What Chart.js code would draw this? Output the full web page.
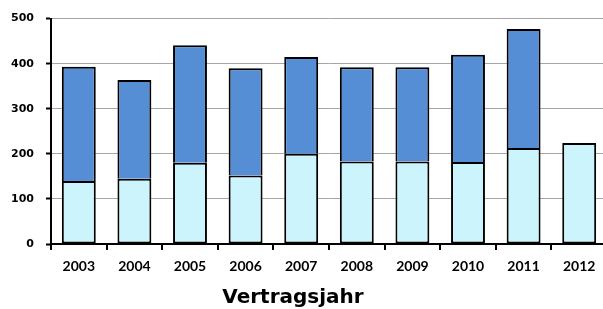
<!DOCTYPE html>
<html>
<head>
<meta charset="utf-8">
<script src="https://cdn.jsdelivr.net/npm/chart.js@4/dist/chart.umd.min.js"></script>
<style>
  html, body { margin: 0; padding: 0; background: #fff; overflow: hidden; width: 603px; height: 309px; }
  #wrap { width: 603px; height: 309px; overflow: hidden; position: relative; }
  canvas { display: block; }
</style>
</head>
<body>
<div id="wrap"><canvas id="c" width="608" height="309" style="width:608px;height:309px"></canvas></div>
<script>
const categories = ['2003','2004','2005','2006','2007','2008','2009','2010','2011','2012'];
const lowerValues = [140, 145, 180, 152, 200, 183, 183, 182, 213, 224];
const upperValues = [253, 219, 261, 238, 215, 209, 209, 238, 264, null];
const yTicks = [0, 100, 200, 300, 400, 500];
const axisTitle = 'Vertragsjahr';

const titlePlugin = {
  id: 'axisTitleText',
  afterDraw(chart) {
    const ctx = chart.ctx;
    ctx.save();
    ctx.font = 'bold 20px "DejaVu Sans"';
    ctx.fillStyle = '#000';
    ctx.textAlign = 'center';
    ctx.textBaseline = 'alphabetic';
    ctx.fillText(axisTitle, 293, 303);
    ctx.restore();
  }
};

new Chart(document.getElementById('c'), {
  type: 'bar',
  data: {
    labels: categories,
    datasets: [
      { data: lowerValues, backgroundColor: '#ccf4fc', borderColor: '#000', borderWidth: 2, borderSkipped: false },
      { data: upperValues, backgroundColor: '#558ed5', borderColor: '#000', borderWidth: 2, borderSkipped: 'bottom' }
    ]
  },
  plugins: [titlePlugin],
  options: {
    responsive: false,
    animation: false,
    devicePixelRatio: 1,
    layout: { padding: { top: 17, right: 1, left: 0, bottom: 0 } },
    plugins: { legend: { display: false }, tooltip: { enabled: false } },
    datasets: { bar: { barPercentage: 0.61, categoryPercentage: 1 } },
    scales: {
      x: {
        stacked: true,
        offset: true,
        grid: { display: true, drawOnChartArea: false, offset: true, color: '#000', tickColor: '#000', tickLength: 6, lineWidth: 2 },
        border: { display: true, color: '#000', width: 2 },
        ticks: { color: '#000', font: { family: 'Lato', weight: 'bold', size: 14 }, padding: 8, maxRotation: 0, autoSkip: false },
        title: { display: false },
        afterFit: (s) => { s.height = 65; }
      },
      y: {
        stacked: true,
        min: 0, max: 500,
        afterBuildTicks: (s) => { s.ticks = yTicks.map(v => ({ value: v })); },
        grid: { color: '#a6a6a6', lineWidth: 1, tickColor: '#000', tickLength: 5, tickWidth: 2 },
        border: { display: true, color: '#000', width: 2 },
        ticks: { color: '#000', font: { family: 'DejaVu Sans', weight: 'bold', size: 11 }, padding: 12 },
        afterFit: (s) => { s.width = 51; }
      }
    }
  }
});
</script>
</body>
</html>
